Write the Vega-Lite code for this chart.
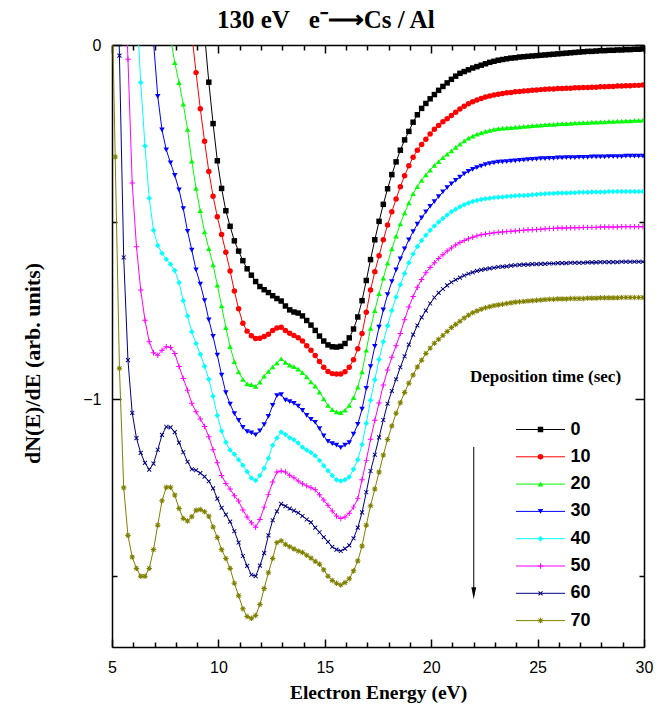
{
"$schema": "https://vega.github.io/schema/vega-lite/v6.json",
"width": 532, "height": 602,
"autosize": {"type": "none"},
"padding": {"left": 112, "top": 45, "right": 24, "bottom": 68},
"background": "white",
"config": {"view": {"stroke": null}},
"title": {"text": "130 eV\u00a0\u00a0\u00a0e\u207b\u27f6Cs / Al", "anchor": "start", "frame": "group", "dx": 105, "offset": 4, "font": "Liberation Serif", "fontSize": 25, "fontWeight": "bold", "color": "black"},
"datasets": {
"arrow": [{"E": 22.0, "v": -1.135, "v2": -1.535}],
"arrowhead": [{"E": 22.0, "v": -1.548}],
"curves": [
{"t":0,"E":9.15,"v":0.15},{"t":0,"E":9.35,"v":0.03},{"t":0,"E":9.55,"v":-0.105},{"t":0,"E":9.75,"v":-0.222},{"t":0,"E":9.95,"v":-0.327},{"t":0,"E":10.15,"v":-0.405},{"t":0,"E":10.35,"v":-0.468},{"t":0,"E":10.55,"v":-0.512},{"t":0,"E":10.75,"v":-0.553},{"t":0,"E":10.95,"v":-0.582},{"t":0,"E":11.15,"v":-0.609},{"t":0,"E":11.35,"v":-0.632},{"t":0,"E":11.55,"v":-0.65},{"t":0,"E":11.75,"v":-0.668},{"t":0,"E":11.95,"v":-0.682},{"t":0,"E":12.15,"v":-0.691},{"t":0,"E":12.35,"v":-0.699},{"t":0,"E":12.55,"v":-0.708},{"t":0,"E":12.75,"v":-0.716},{"t":0,"E":12.95,"v":-0.723},{"t":0,"E":13.15,"v":-0.737},{"t":0,"E":13.35,"v":-0.748},{"t":0,"E":13.55,"v":-0.754},{"t":0,"E":13.75,"v":-0.757},{"t":0,"E":13.95,"v":-0.765},{"t":0,"E":14.15,"v":-0.778},{"t":0,"E":14.35,"v":-0.791},{"t":0,"E":14.55,"v":-0.806},{"t":0,"E":14.75,"v":-0.822},{"t":0,"E":14.95,"v":-0.836},{"t":0,"E":15.15,"v":-0.847},{"t":0,"E":15.35,"v":-0.852},{"t":0,"E":15.55,"v":-0.853},{"t":0,"E":15.75,"v":-0.851},{"t":0,"E":15.95,"v":-0.843},{"t":0,"E":16.15,"v":-0.827},{"t":0,"E":16.35,"v":-0.802},{"t":0,"E":16.55,"v":-0.768},{"t":0,"E":16.75,"v":-0.722},{"t":0,"E":16.95,"v":-0.665},{"t":0,"E":17.15,"v":-0.606},{"t":0,"E":17.35,"v":-0.55},{"t":0,"E":17.55,"v":-0.498},{"t":0,"E":17.75,"v":-0.45},{"t":0,"E":17.95,"v":-0.406},{"t":0,"E":18.15,"v":-0.366},{"t":0,"E":18.35,"v":-0.33},{"t":0,"E":18.55,"v":-0.297},{"t":0,"E":18.75,"v":-0.268},{"t":0,"E":18.95,"v":-0.244},{"t":0,"E":19.15,"v":-0.218},{"t":0,"E":19.35,"v":-0.197},{"t":0,"E":19.55,"v":-0.179},{"t":0,"E":19.75,"v":-0.165},{"t":0,"E":19.95,"v":-0.152},{"t":0,"E":20.15,"v":-0.14},{"t":0,"E":20.35,"v":-0.128},{"t":0,"E":20.55,"v":-0.117},{"t":0,"E":20.75,"v":-0.107},{"t":0,"E":20.95,"v":-0.097},{"t":0,"E":21.15,"v":-0.088},{"t":0,"E":21.35,"v":-0.08},{"t":0,"E":21.55,"v":-0.075},{"t":0,"E":21.75,"v":-0.07},{"t":0,"E":21.95,"v":-0.065},{"t":0,"E":22.15,"v":-0.061},{"t":0,"E":22.35,"v":-0.057},{"t":0,"E":22.55,"v":-0.053},{"t":0,"E":22.75,"v":-0.049},{"t":0,"E":22.95,"v":-0.046},{"t":0,"E":23.15,"v":-0.043},{"t":0,"E":23.35,"v":-0.041},{"t":0,"E":23.55,"v":-0.039},{"t":0,"E":23.75,"v":-0.037},{"t":0,"E":23.95,"v":-0.036},{"t":0,"E":24.15,"v":-0.034},{"t":0,"E":24.35,"v":-0.033},{"t":0,"E":24.55,"v":-0.032},{"t":0,"E":24.75,"v":-0.031},{"t":0,"E":24.95,"v":-0.03},{"t":0,"E":25.15,"v":-0.029},{"t":0,"E":25.35,"v":-0.028},{"t":0,"E":25.55,"v":-0.027},{"t":0,"E":25.75,"v":-0.026},{"t":0,"E":25.95,"v":-0.025},{"t":0,"E":26.15,"v":-0.024},{"t":0,"E":26.35,"v":-0.023},{"t":0,"E":26.55,"v":-0.022},{"t":0,"E":26.75,"v":-0.021},{"t":0,"E":26.95,"v":-0.02},{"t":0,"E":27.15,"v":-0.019},{"t":0,"E":27.35,"v":-0.018},{"t":0,"E":27.55,"v":-0.018},{"t":0,"E":27.75,"v":-0.017},{"t":0,"E":27.95,"v":-0.016},{"t":0,"E":28.15,"v":-0.016},{"t":0,"E":28.35,"v":-0.015},{"t":0,"E":28.55,"v":-0.015},{"t":0,"E":28.75,"v":-0.014},{"t":0,"E":28.95,"v":-0.014},{"t":0,"E":29.15,"v":-0.013},{"t":0,"E":29.35,"v":-0.013},{"t":0,"E":29.55,"v":-0.012},{"t":0,"E":29.75,"v":-0.012},{"t":0,"E":29.95,"v":-0.011},
{"t":10,"E":8.55,"v":0.25},{"t":10,"E":8.75,"v":0.03},{"t":10,"E":8.95,"v":-0.078},{"t":10,"E":9.15,"v":-0.18},{"t":10,"E":9.35,"v":-0.272},{"t":10,"E":9.55,"v":-0.357},{"t":10,"E":9.75,"v":-0.427},{"t":10,"E":9.95,"v":-0.485},{"t":10,"E":10.15,"v":-0.535},{"t":10,"E":10.35,"v":-0.585},{"t":10,"E":10.55,"v":-0.638},{"t":10,"E":10.75,"v":-0.695},{"t":10,"E":10.95,"v":-0.745},{"t":10,"E":11.15,"v":-0.786},{"t":10,"E":11.35,"v":-0.808},{"t":10,"E":11.55,"v":-0.821},{"t":10,"E":11.75,"v":-0.829},{"t":10,"E":11.95,"v":-0.828},{"t":10,"E":12.15,"v":-0.823},{"t":10,"E":12.35,"v":-0.817},{"t":10,"E":12.55,"v":-0.806},{"t":10,"E":12.75,"v":-0.799},{"t":10,"E":12.95,"v":-0.797},{"t":10,"E":13.15,"v":-0.806},{"t":10,"E":13.35,"v":-0.814},{"t":10,"E":13.55,"v":-0.82},{"t":10,"E":13.75,"v":-0.827},{"t":10,"E":13.95,"v":-0.836},{"t":10,"E":14.15,"v":-0.849},{"t":10,"E":14.35,"v":-0.862},{"t":10,"E":14.55,"v":-0.877},{"t":10,"E":14.75,"v":-0.894},{"t":10,"E":14.95,"v":-0.91},{"t":10,"E":15.15,"v":-0.922},{"t":10,"E":15.35,"v":-0.928},{"t":10,"E":15.55,"v":-0.929},{"t":10,"E":15.75,"v":-0.929},{"t":10,"E":15.95,"v":-0.923},{"t":10,"E":16.15,"v":-0.91},{"t":10,"E":16.35,"v":-0.889},{"t":10,"E":16.55,"v":-0.858},{"t":10,"E":16.75,"v":-0.815},{"t":10,"E":16.95,"v":-0.755},{"t":10,"E":17.15,"v":-0.692},{"t":10,"E":17.35,"v":-0.64},{"t":10,"E":17.55,"v":-0.595},{"t":10,"E":17.75,"v":-0.55},{"t":10,"E":17.95,"v":-0.508},{"t":10,"E":18.15,"v":-0.471},{"t":10,"E":18.35,"v":-0.435},{"t":10,"E":18.55,"v":-0.4},{"t":10,"E":18.75,"v":-0.369},{"t":10,"E":18.95,"v":-0.341},{"t":10,"E":19.15,"v":-0.317},{"t":10,"E":19.35,"v":-0.297},{"t":10,"E":19.55,"v":-0.281},{"t":10,"E":19.75,"v":-0.266},{"t":10,"E":19.95,"v":-0.251},{"t":10,"E":20.15,"v":-0.238},{"t":10,"E":20.35,"v":-0.227},{"t":10,"E":20.55,"v":-0.217},{"t":10,"E":20.75,"v":-0.208},{"t":10,"E":20.95,"v":-0.199},{"t":10,"E":21.15,"v":-0.19},{"t":10,"E":21.35,"v":-0.181},{"t":10,"E":21.55,"v":-0.173},{"t":10,"E":21.75,"v":-0.166},{"t":10,"E":21.95,"v":-0.16},{"t":10,"E":22.15,"v":-0.155},{"t":10,"E":22.35,"v":-0.151},{"t":10,"E":22.55,"v":-0.147},{"t":10,"E":22.75,"v":-0.144},{"t":10,"E":22.95,"v":-0.141},{"t":10,"E":23.15,"v":-0.139},{"t":10,"E":23.35,"v":-0.137},{"t":10,"E":23.55,"v":-0.135},{"t":10,"E":23.75,"v":-0.134},{"t":10,"E":23.95,"v":-0.132},{"t":10,"E":24.15,"v":-0.131},{"t":10,"E":24.35,"v":-0.13},{"t":10,"E":24.55,"v":-0.129},{"t":10,"E":24.75,"v":-0.128},{"t":10,"E":24.95,"v":-0.127},{"t":10,"E":25.15,"v":-0.126},{"t":10,"E":25.35,"v":-0.125},{"t":10,"E":25.55,"v":-0.124},{"t":10,"E":25.75,"v":-0.124},{"t":10,"E":25.95,"v":-0.123},{"t":10,"E":26.15,"v":-0.123},{"t":10,"E":26.35,"v":-0.122},{"t":10,"E":26.55,"v":-0.122},{"t":10,"E":26.75,"v":-0.121},{"t":10,"E":26.95,"v":-0.121},{"t":10,"E":27.15,"v":-0.12},{"t":10,"E":27.35,"v":-0.12},{"t":10,"E":27.55,"v":-0.119},{"t":10,"E":27.75,"v":-0.119},{"t":10,"E":27.95,"v":-0.118},{"t":10,"E":28.15,"v":-0.118},{"t":10,"E":28.35,"v":-0.117},{"t":10,"E":28.55,"v":-0.117},{"t":10,"E":28.75,"v":-0.116},{"t":10,"E":28.95,"v":-0.116},{"t":10,"E":29.15,"v":-0.115},{"t":10,"E":29.35,"v":-0.115},{"t":10,"E":29.55,"v":-0.114},{"t":10,"E":29.75,"v":-0.114},{"t":10,"E":29.95,"v":-0.113},
{"t":20,"E":7.55,"v":0.2},{"t":20,"E":7.75,"v":0.02},{"t":20,"E":7.95,"v":-0.05},{"t":20,"E":8.15,"v":-0.106},{"t":20,"E":8.35,"v":-0.167},{"t":20,"E":8.55,"v":-0.238},{"t":20,"E":8.75,"v":-0.328},{"t":20,"E":8.95,"v":-0.405},{"t":20,"E":9.15,"v":-0.468},{"t":20,"E":9.35,"v":-0.528},{"t":20,"E":9.55,"v":-0.575},{"t":20,"E":9.75,"v":-0.621},{"t":20,"E":9.95,"v":-0.678},{"t":20,"E":10.15,"v":-0.737},{"t":20,"E":10.35,"v":-0.798},{"t":20,"E":10.55,"v":-0.852},{"t":20,"E":10.75,"v":-0.894},{"t":20,"E":10.95,"v":-0.923},{"t":20,"E":11.15,"v":-0.944},{"t":20,"E":11.35,"v":-0.957},{"t":20,"E":11.55,"v":-0.959},{"t":20,"E":11.75,"v":-0.964},{"t":20,"E":11.95,"v":-0.952},{"t":20,"E":12.15,"v":-0.935},{"t":20,"E":12.35,"v":-0.922},{"t":20,"E":12.55,"v":-0.909},{"t":20,"E":12.75,"v":-0.898},{"t":20,"E":12.95,"v":-0.886},{"t":20,"E":13.15,"v":-0.896},{"t":20,"E":13.35,"v":-0.904},{"t":20,"E":13.55,"v":-0.908},{"t":20,"E":13.75,"v":-0.915},{"t":20,"E":13.95,"v":-0.925},{"t":20,"E":14.15,"v":-0.937},{"t":20,"E":14.35,"v":-0.951},{"t":20,"E":14.55,"v":-0.963},{"t":20,"E":14.75,"v":-0.98},{"t":20,"E":14.95,"v":-0.999},{"t":20,"E":15.15,"v":-1.018},{"t":20,"E":15.35,"v":-1.03},{"t":20,"E":15.55,"v":-1.036},{"t":20,"E":15.75,"v":-1.038},{"t":20,"E":15.95,"v":-1.031},{"t":20,"E":16.15,"v":-1.018},{"t":20,"E":16.35,"v":-0.996},{"t":20,"E":16.55,"v":-0.966},{"t":20,"E":16.75,"v":-0.923},{"t":20,"E":16.95,"v":-0.862},{"t":20,"E":17.15,"v":-0.8},{"t":20,"E":17.35,"v":-0.75},{"t":20,"E":17.55,"v":-0.702},{"t":20,"E":17.75,"v":-0.658},{"t":20,"E":17.95,"v":-0.616},{"t":20,"E":18.15,"v":-0.576},{"t":20,"E":18.35,"v":-0.54},{"t":20,"E":18.55,"v":-0.505},{"t":20,"E":18.75,"v":-0.474},{"t":20,"E":18.95,"v":-0.446},{"t":20,"E":19.15,"v":-0.42},{"t":20,"E":19.35,"v":-0.4},{"t":20,"E":19.55,"v":-0.382},{"t":20,"E":19.75,"v":-0.367},{"t":20,"E":19.95,"v":-0.353},{"t":20,"E":20.15,"v":-0.34},{"t":20,"E":20.35,"v":-0.329},{"t":20,"E":20.55,"v":-0.318},{"t":20,"E":20.75,"v":-0.308},{"t":20,"E":20.95,"v":-0.299},{"t":20,"E":21.15,"v":-0.289},{"t":20,"E":21.35,"v":-0.28},{"t":20,"E":21.55,"v":-0.271},{"t":20,"E":21.75,"v":-0.263},{"t":20,"E":21.95,"v":-0.257},{"t":20,"E":22.15,"v":-0.252},{"t":20,"E":22.35,"v":-0.248},{"t":20,"E":22.55,"v":-0.244},{"t":20,"E":22.75,"v":-0.241},{"t":20,"E":22.95,"v":-0.238},{"t":20,"E":23.15,"v":-0.236},{"t":20,"E":23.35,"v":-0.235},{"t":20,"E":23.55,"v":-0.234},{"t":20,"E":23.75,"v":-0.233},{"t":20,"E":23.95,"v":-0.232},{"t":20,"E":24.15,"v":-0.231},{"t":20,"E":24.35,"v":-0.23},{"t":20,"E":24.55,"v":-0.229},{"t":20,"E":24.75,"v":-0.228},{"t":20,"E":24.95,"v":-0.227},{"t":20,"E":25.15,"v":-0.226},{"t":20,"E":25.35,"v":-0.225},{"t":20,"E":25.55,"v":-0.224},{"t":20,"E":25.75,"v":-0.224},{"t":20,"E":25.95,"v":-0.223},{"t":20,"E":26.15,"v":-0.222},{"t":20,"E":26.35,"v":-0.222},{"t":20,"E":26.55,"v":-0.221},{"t":20,"E":26.75,"v":-0.22},{"t":20,"E":26.95,"v":-0.22},{"t":20,"E":27.15,"v":-0.219},{"t":20,"E":27.35,"v":-0.219},{"t":20,"E":27.55,"v":-0.218},{"t":20,"E":27.75,"v":-0.218},{"t":20,"E":27.95,"v":-0.217},{"t":20,"E":28.15,"v":-0.217},{"t":20,"E":28.35,"v":-0.216},{"t":20,"E":28.55,"v":-0.216},{"t":20,"E":28.75,"v":-0.215},{"t":20,"E":28.95,"v":-0.215},{"t":20,"E":29.15,"v":-0.214},{"t":20,"E":29.35,"v":-0.214},{"t":20,"E":29.55,"v":-0.213},{"t":20,"E":29.75,"v":-0.213},{"t":20,"E":29.95,"v":-0.212},
{"t":30,"E":6.75,"v":0.3},{"t":30,"E":6.95,"v":0.01},{"t":30,"E":7.15,"v":-0.145},{"t":30,"E":7.35,"v":-0.24},{"t":30,"E":7.55,"v":-0.296},{"t":30,"E":7.75,"v":-0.333},{"t":30,"E":7.95,"v":-0.368},{"t":30,"E":8.15,"v":-0.409},{"t":30,"E":8.35,"v":-0.462},{"t":30,"E":8.55,"v":-0.526},{"t":30,"E":8.75,"v":-0.579},{"t":30,"E":8.95,"v":-0.635},{"t":30,"E":9.15,"v":-0.675},{"t":30,"E":9.35,"v":-0.722},{"t":30,"E":9.55,"v":-0.776},{"t":30,"E":9.75,"v":-0.823},{"t":30,"E":9.95,"v":-0.876},{"t":30,"E":10.15,"v":-0.932},{"t":30,"E":10.35,"v":-0.982},{"t":30,"E":10.55,"v":-1.014},{"t":30,"E":10.75,"v":-1.041},{"t":30,"E":10.95,"v":-1.06},{"t":30,"E":11.15,"v":-1.08},{"t":30,"E":11.35,"v":-1.092},{"t":30,"E":11.55,"v":-1.095},{"t":30,"E":11.75,"v":-1.101},{"t":30,"E":11.95,"v":-1.09},{"t":30,"E":12.15,"v":-1.072},{"t":30,"E":12.35,"v":-1.049},{"t":30,"E":12.55,"v":-1.018},{"t":30,"E":12.75,"v":-0.99},{"t":30,"E":12.95,"v":-0.987},{"t":30,"E":13.15,"v":-1.003},{"t":30,"E":13.35,"v":-1.007},{"t":30,"E":13.55,"v":-1.012},{"t":30,"E":13.75,"v":-1.02},{"t":30,"E":13.95,"v":-1.032},{"t":30,"E":14.15,"v":-1.046},{"t":30,"E":14.35,"v":-1.057},{"t":30,"E":14.55,"v":-1.066},{"t":30,"E":14.75,"v":-1.083},{"t":30,"E":14.95,"v":-1.104},{"t":30,"E":15.15,"v":-1.119},{"t":30,"E":15.35,"v":-1.126},{"t":30,"E":15.55,"v":-1.13},{"t":30,"E":15.75,"v":-1.137},{"t":30,"E":15.95,"v":-1.13},{"t":30,"E":16.15,"v":-1.123},{"t":30,"E":16.35,"v":-1.099},{"t":30,"E":16.55,"v":-1.071},{"t":30,"E":16.75,"v":-1.028},{"t":30,"E":16.95,"v":-0.97},{"t":30,"E":17.15,"v":-0.908},{"t":30,"E":17.35,"v":-0.851},{"t":30,"E":17.55,"v":-0.797},{"t":30,"E":17.75,"v":-0.748},{"t":30,"E":17.95,"v":-0.705},{"t":30,"E":18.15,"v":-0.668},{"t":30,"E":18.35,"v":-0.635},{"t":30,"E":18.55,"v":-0.604},{"t":30,"E":18.75,"v":-0.576},{"t":30,"E":18.95,"v":-0.55},{"t":30,"E":19.15,"v":-0.527},{"t":30,"E":19.35,"v":-0.506},{"t":30,"E":19.55,"v":-0.488},{"t":30,"E":19.75,"v":-0.471},{"t":30,"E":19.95,"v":-0.456},{"t":30,"E":20.15,"v":-0.442},{"t":30,"E":20.35,"v":-0.428},{"t":30,"E":20.55,"v":-0.415},{"t":30,"E":20.75,"v":-0.403},{"t":30,"E":20.95,"v":-0.392},{"t":30,"E":21.15,"v":-0.382},{"t":30,"E":21.35,"v":-0.373},{"t":30,"E":21.55,"v":-0.364},{"t":30,"E":21.75,"v":-0.357},{"t":30,"E":21.95,"v":-0.351},{"t":30,"E":22.15,"v":-0.346},{"t":30,"E":22.35,"v":-0.342},{"t":30,"E":22.55,"v":-0.338},{"t":30,"E":22.75,"v":-0.335},{"t":30,"E":22.95,"v":-0.333},{"t":30,"E":23.15,"v":-0.331},{"t":30,"E":23.35,"v":-0.33},{"t":30,"E":23.55,"v":-0.329},{"t":30,"E":23.75,"v":-0.328},{"t":30,"E":23.95,"v":-0.327},{"t":30,"E":24.15,"v":-0.326},{"t":30,"E":24.35,"v":-0.325},{"t":30,"E":24.55,"v":-0.324},{"t":30,"E":24.75,"v":-0.323},{"t":30,"E":24.95,"v":-0.322},{"t":30,"E":25.15,"v":-0.321},{"t":30,"E":25.35,"v":-0.321},{"t":30,"E":25.55,"v":-0.32},{"t":30,"E":25.75,"v":-0.32},{"t":30,"E":25.95,"v":-0.319},{"t":30,"E":26.15,"v":-0.319},{"t":30,"E":26.35,"v":-0.318},{"t":30,"E":26.55,"v":-0.318},{"t":30,"E":26.75,"v":-0.318},{"t":30,"E":26.95,"v":-0.317},{"t":30,"E":27.15,"v":-0.317},{"t":30,"E":27.35,"v":-0.317},{"t":30,"E":27.55,"v":-0.316},{"t":30,"E":27.75,"v":-0.316},{"t":30,"E":27.95,"v":-0.316},{"t":30,"E":28.15,"v":-0.316},{"t":30,"E":28.35,"v":-0.315},{"t":30,"E":28.55,"v":-0.315},{"t":30,"E":28.75,"v":-0.315},{"t":30,"E":28.95,"v":-0.315},{"t":30,"E":29.15,"v":-0.314},{"t":30,"E":29.35,"v":-0.314},{"t":30,"E":29.55,"v":-0.314},{"t":30,"E":29.75,"v":-0.314},{"t":30,"E":29.95,"v":-0.314},
{"t":40,"E":6.15,"v":0.12},{"t":40,"E":6.35,"v":-0.106},{"t":40,"E":6.55,"v":-0.285},{"t":40,"E":6.75,"v":-0.433},{"t":40,"E":6.95,"v":-0.523},{"t":40,"E":7.15,"v":-0.566},{"t":40,"E":7.35,"v":-0.588},{"t":40,"E":7.55,"v":-0.605},{"t":40,"E":7.75,"v":-0.619},{"t":40,"E":7.95,"v":-0.637},{"t":40,"E":8.15,"v":-0.671},{"t":40,"E":8.35,"v":-0.722},{"t":40,"E":8.55,"v":-0.765},{"t":40,"E":8.75,"v":-0.81},{"t":40,"E":8.95,"v":-0.843},{"t":40,"E":9.15,"v":-0.873},{"t":40,"E":9.35,"v":-0.907},{"t":40,"E":9.55,"v":-0.944},{"t":40,"E":9.75,"v":-0.992},{"t":40,"E":9.95,"v":-1.046},{"t":40,"E":10.15,"v":-1.09},{"t":40,"E":10.35,"v":-1.122},{"t":40,"E":10.55,"v":-1.144},{"t":40,"E":10.75,"v":-1.156},{"t":40,"E":10.95,"v":-1.171},{"t":40,"E":11.15,"v":-1.187},{"t":40,"E":11.35,"v":-1.205},{"t":40,"E":11.55,"v":-1.223},{"t":40,"E":11.75,"v":-1.23},{"t":40,"E":11.95,"v":-1.216},{"t":40,"E":12.15,"v":-1.195},{"t":40,"E":12.35,"v":-1.167},{"t":40,"E":12.55,"v":-1.13},{"t":40,"E":12.75,"v":-1.11},{"t":40,"E":12.95,"v":-1.093},{"t":40,"E":13.15,"v":-1.1},{"t":40,"E":13.35,"v":-1.109},{"t":40,"E":13.55,"v":-1.115},{"t":40,"E":13.75,"v":-1.124},{"t":40,"E":13.95,"v":-1.136},{"t":40,"E":14.15,"v":-1.144},{"t":40,"E":14.35,"v":-1.151},{"t":40,"E":14.55,"v":-1.16},{"t":40,"E":14.75,"v":-1.173},{"t":40,"E":14.95,"v":-1.188},{"t":40,"E":15.15,"v":-1.202},{"t":40,"E":15.35,"v":-1.216},{"t":40,"E":15.55,"v":-1.228},{"t":40,"E":15.75,"v":-1.231},{"t":40,"E":15.95,"v":-1.228},{"t":40,"E":16.15,"v":-1.22},{"t":40,"E":16.35,"v":-1.198},{"t":40,"E":16.55,"v":-1.171},{"t":40,"E":16.75,"v":-1.128},{"t":40,"E":16.95,"v":-1.068},{"t":40,"E":17.15,"v":-1.003},{"t":40,"E":17.35,"v":-0.945},{"t":40,"E":17.55,"v":-0.888},{"t":40,"E":17.75,"v":-0.838},{"t":40,"E":17.95,"v":-0.793},{"t":40,"E":18.15,"v":-0.75},{"t":40,"E":18.35,"v":-0.712},{"t":40,"E":18.55,"v":-0.677},{"t":40,"E":18.75,"v":-0.645},{"t":40,"E":18.95,"v":-0.615},{"t":40,"E":19.15,"v":-0.59},{"t":40,"E":19.35,"v":-0.569},{"t":40,"E":19.55,"v":-0.552},{"t":40,"E":19.75,"v":-0.537},{"t":40,"E":19.95,"v":-0.523},{"t":40,"E":20.15,"v":-0.511},{"t":40,"E":20.35,"v":-0.5},{"t":40,"E":20.55,"v":-0.49},{"t":40,"E":20.75,"v":-0.48},{"t":40,"E":20.95,"v":-0.471},{"t":40,"E":21.15,"v":-0.464},{"t":40,"E":21.35,"v":-0.457},{"t":40,"E":21.55,"v":-0.451},{"t":40,"E":21.75,"v":-0.446},{"t":40,"E":21.95,"v":-0.442},{"t":40,"E":22.15,"v":-0.439},{"t":40,"E":22.35,"v":-0.436},{"t":40,"E":22.55,"v":-0.434},{"t":40,"E":22.75,"v":-0.433},{"t":40,"E":22.95,"v":-0.431},{"t":40,"E":23.15,"v":-0.43},{"t":40,"E":23.35,"v":-0.429},{"t":40,"E":23.55,"v":-0.428},{"t":40,"E":23.75,"v":-0.427},{"t":40,"E":23.95,"v":-0.426},{"t":40,"E":24.15,"v":-0.425},{"t":40,"E":24.35,"v":-0.425},{"t":40,"E":24.55,"v":-0.424},{"t":40,"E":24.75,"v":-0.423},{"t":40,"E":24.95,"v":-0.422},{"t":40,"E":25.15,"v":-0.421},{"t":40,"E":25.35,"v":-0.42},{"t":40,"E":25.55,"v":-0.419},{"t":40,"E":25.75,"v":-0.419},{"t":40,"E":25.95,"v":-0.418},{"t":40,"E":26.15,"v":-0.418},{"t":40,"E":26.35,"v":-0.418},{"t":40,"E":26.55,"v":-0.417},{"t":40,"E":26.75,"v":-0.417},{"t":40,"E":26.95,"v":-0.416},{"t":40,"E":27.15,"v":-0.416},{"t":40,"E":27.35,"v":-0.416},{"t":40,"E":27.55,"v":-0.415},{"t":40,"E":27.75,"v":-0.415},{"t":40,"E":27.95,"v":-0.415},{"t":40,"E":28.15,"v":-0.415},{"t":40,"E":28.35,"v":-0.414},{"t":40,"E":28.55,"v":-0.414},{"t":40,"E":28.75,"v":-0.414},{"t":40,"E":28.95,"v":-0.414},{"t":40,"E":29.15,"v":-0.414},{"t":40,"E":29.35,"v":-0.414},{"t":40,"E":29.55,"v":-0.414},{"t":40,"E":29.75,"v":-0.414},{"t":40,"E":29.95,"v":-0.414},
{"t":50,"E":5.55,"v":0.3},{"t":50,"E":5.75,"v":-0.04},{"t":50,"E":5.95,"v":-0.39},{"t":50,"E":6.15,"v":-0.57},{"t":50,"E":6.35,"v":-0.692},{"t":50,"E":6.55,"v":-0.777},{"t":50,"E":6.75,"v":-0.838},{"t":50,"E":6.95,"v":-0.869},{"t":50,"E":7.15,"v":-0.876},{"t":50,"E":7.35,"v":-0.862},{"t":50,"E":7.55,"v":-0.852},{"t":50,"E":7.75,"v":-0.854},{"t":50,"E":7.95,"v":-0.871},{"t":50,"E":8.15,"v":-0.908},{"t":50,"E":8.35,"v":-0.942},{"t":50,"E":8.55,"v":-0.975},{"t":50,"E":8.75,"v":-1.012},{"t":50,"E":8.95,"v":-1.036},{"t":50,"E":9.15,"v":-1.056},{"t":50,"E":9.35,"v":-1.077},{"t":50,"E":9.55,"v":-1.106},{"t":50,"E":9.75,"v":-1.143},{"t":50,"E":9.95,"v":-1.18},{"t":50,"E":10.15,"v":-1.216},{"t":50,"E":10.35,"v":-1.238},{"t":50,"E":10.55,"v":-1.254},{"t":50,"E":10.75,"v":-1.273},{"t":50,"E":10.95,"v":-1.288},{"t":50,"E":11.15,"v":-1.313},{"t":50,"E":11.35,"v":-1.333},{"t":50,"E":11.55,"v":-1.349},{"t":50,"E":11.75,"v":-1.362},{"t":50,"E":11.95,"v":-1.34},{"t":50,"E":12.15,"v":-1.305},{"t":50,"E":12.35,"v":-1.269},{"t":50,"E":12.55,"v":-1.234},{"t":50,"E":12.75,"v":-1.206},{"t":50,"E":12.95,"v":-1.203},{"t":50,"E":13.15,"v":-1.206},{"t":50,"E":13.35,"v":-1.215},{"t":50,"E":13.55,"v":-1.222},{"t":50,"E":13.75,"v":-1.231},{"t":50,"E":13.95,"v":-1.239},{"t":50,"E":14.15,"v":-1.245},{"t":50,"E":14.35,"v":-1.25},{"t":50,"E":14.55,"v":-1.256},{"t":50,"E":14.75,"v":-1.27},{"t":50,"E":14.95,"v":-1.285},{"t":50,"E":15.15,"v":-1.3},{"t":50,"E":15.35,"v":-1.316},{"t":50,"E":15.55,"v":-1.33},{"t":50,"E":15.75,"v":-1.337},{"t":50,"E":15.95,"v":-1.333},{"t":50,"E":16.15,"v":-1.322},{"t":50,"E":16.35,"v":-1.305},{"t":50,"E":16.55,"v":-1.281},{"t":50,"E":16.75,"v":-1.228},{"t":50,"E":16.95,"v":-1.173},{"t":50,"E":17.15,"v":-1.113},{"t":50,"E":17.35,"v":-1.06},{"t":50,"E":17.55,"v":-1.011},{"t":50,"E":17.75,"v":-0.96},{"t":50,"E":17.95,"v":-0.918},{"t":50,"E":18.15,"v":-0.882},{"t":50,"E":18.35,"v":-0.849},{"t":50,"E":18.55,"v":-0.815},{"t":50,"E":18.75,"v":-0.776},{"t":50,"E":18.95,"v":-0.74},{"t":50,"E":19.15,"v":-0.71},{"t":50,"E":19.35,"v":-0.684},{"t":50,"E":19.55,"v":-0.662},{"t":50,"E":19.75,"v":-0.643},{"t":50,"E":19.95,"v":-0.628},{"t":50,"E":20.15,"v":-0.615},{"t":50,"E":20.35,"v":-0.603},{"t":50,"E":20.55,"v":-0.592},{"t":50,"E":20.75,"v":-0.582},{"t":50,"E":20.95,"v":-0.573},{"t":50,"E":21.15,"v":-0.565},{"t":50,"E":21.35,"v":-0.558},{"t":50,"E":21.55,"v":-0.552},{"t":50,"E":21.75,"v":-0.547},{"t":50,"E":21.95,"v":-0.543},{"t":50,"E":22.15,"v":-0.539},{"t":50,"E":22.35,"v":-0.536},{"t":50,"E":22.55,"v":-0.534},{"t":50,"E":22.75,"v":-0.532},{"t":50,"E":22.95,"v":-0.53},{"t":50,"E":23.15,"v":-0.529},{"t":50,"E":23.35,"v":-0.528},{"t":50,"E":23.55,"v":-0.527},{"t":50,"E":23.75,"v":-0.526},{"t":50,"E":23.95,"v":-0.525},{"t":50,"E":24.15,"v":-0.524},{"t":50,"E":24.35,"v":-0.523},{"t":50,"E":24.55,"v":-0.522},{"t":50,"E":24.75,"v":-0.522},{"t":50,"E":24.95,"v":-0.521},{"t":50,"E":25.15,"v":-0.52},{"t":50,"E":25.35,"v":-0.519},{"t":50,"E":25.55,"v":-0.518},{"t":50,"E":25.75,"v":-0.518},{"t":50,"E":25.95,"v":-0.517},{"t":50,"E":26.15,"v":-0.517},{"t":50,"E":26.35,"v":-0.517},{"t":50,"E":26.55,"v":-0.516},{"t":50,"E":26.75,"v":-0.516},{"t":50,"E":26.95,"v":-0.516},{"t":50,"E":27.15,"v":-0.515},{"t":50,"E":27.35,"v":-0.515},{"t":50,"E":27.55,"v":-0.515},{"t":50,"E":27.75,"v":-0.515},{"t":50,"E":27.95,"v":-0.514},{"t":50,"E":28.15,"v":-0.514},{"t":50,"E":28.35,"v":-0.514},{"t":50,"E":28.55,"v":-0.514},{"t":50,"E":28.75,"v":-0.514},{"t":50,"E":28.95,"v":-0.513},{"t":50,"E":29.15,"v":-0.513},{"t":50,"E":29.35,"v":-0.513},{"t":50,"E":29.55,"v":-0.513},{"t":50,"E":29.75,"v":-0.513},{"t":50,"E":29.95,"v":-0.513},
{"t":60,"E":5.15,"v":0.5},{"t":60,"E":5.35,"v":-0.03},{"t":60,"E":5.55,"v":-0.6},{"t":60,"E":5.75,"v":-0.89},{"t":60,"E":5.95,"v":-1.039},{"t":60,"E":6.15,"v":-1.11},{"t":60,"E":6.35,"v":-1.152},{"t":60,"E":6.55,"v":-1.18},{"t":60,"E":6.75,"v":-1.199},{"t":60,"E":6.95,"v":-1.182},{"t":60,"E":7.15,"v":-1.143},{"t":60,"E":7.35,"v":-1.101},{"t":60,"E":7.55,"v":-1.078},{"t":60,"E":7.75,"v":-1.08},{"t":60,"E":7.95,"v":-1.093},{"t":60,"E":8.15,"v":-1.123},{"t":60,"E":8.35,"v":-1.15},{"t":60,"E":8.55,"v":-1.177},{"t":60,"E":8.75,"v":-1.198},{"t":60,"E":8.95,"v":-1.201},{"t":60,"E":9.15,"v":-1.209},{"t":60,"E":9.35,"v":-1.219},{"t":60,"E":9.55,"v":-1.232},{"t":60,"E":9.75,"v":-1.252},{"t":60,"E":9.95,"v":-1.281},{"t":60,"E":10.15,"v":-1.307},{"t":60,"E":10.35,"v":-1.326},{"t":60,"E":10.55,"v":-1.346},{"t":60,"E":10.75,"v":-1.373},{"t":60,"E":10.95,"v":-1.405},{"t":60,"E":11.15,"v":-1.443},{"t":60,"E":11.35,"v":-1.471},{"t":60,"E":11.55,"v":-1.496},{"t":60,"E":11.75,"v":-1.5},{"t":60,"E":11.95,"v":-1.47},{"t":60,"E":12.15,"v":-1.435},{"t":60,"E":12.35,"v":-1.385},{"t":60,"E":12.55,"v":-1.342},{"t":60,"E":12.75,"v":-1.317},{"t":60,"E":12.95,"v":-1.296},{"t":60,"E":13.15,"v":-1.302},{"t":60,"E":13.35,"v":-1.309},{"t":60,"E":13.55,"v":-1.315},{"t":60,"E":13.75,"v":-1.321},{"t":60,"E":13.95,"v":-1.33},{"t":60,"E":14.15,"v":-1.34},{"t":60,"E":14.35,"v":-1.348},{"t":60,"E":14.55,"v":-1.363},{"t":60,"E":14.75,"v":-1.376},{"t":60,"E":14.95,"v":-1.39},{"t":60,"E":15.15,"v":-1.403},{"t":60,"E":15.35,"v":-1.417},{"t":60,"E":15.55,"v":-1.425},{"t":60,"E":15.75,"v":-1.429},{"t":60,"E":15.95,"v":-1.422},{"t":60,"E":16.15,"v":-1.413},{"t":60,"E":16.35,"v":-1.393},{"t":60,"E":16.55,"v":-1.363},{"t":60,"E":16.75,"v":-1.32},{"t":60,"E":16.95,"v":-1.263},{"t":60,"E":17.15,"v":-1.203},{"t":60,"E":17.35,"v":-1.157},{"t":60,"E":17.55,"v":-1.108},{"t":60,"E":17.75,"v":-1.059},{"t":60,"E":17.95,"v":-1.013},{"t":60,"E":18.15,"v":-0.977},{"t":60,"E":18.35,"v":-0.944},{"t":60,"E":18.55,"v":-0.91},{"t":60,"E":18.75,"v":-0.879},{"t":60,"E":18.95,"v":-0.846},{"t":60,"E":19.15,"v":-0.818},{"t":60,"E":19.35,"v":-0.792},{"t":60,"E":19.55,"v":-0.769},{"t":60,"E":19.75,"v":-0.75},{"t":60,"E":19.95,"v":-0.73},{"t":60,"E":20.15,"v":-0.713},{"t":60,"E":20.35,"v":-0.7},{"t":60,"E":20.55,"v":-0.689},{"t":60,"E":20.75,"v":-0.679},{"t":60,"E":20.95,"v":-0.67},{"t":60,"E":21.15,"v":-0.663},{"t":60,"E":21.35,"v":-0.657},{"t":60,"E":21.55,"v":-0.651},{"t":60,"E":21.75,"v":-0.646},{"t":60,"E":21.95,"v":-0.642},{"t":60,"E":22.15,"v":-0.638},{"t":60,"E":22.35,"v":-0.635},{"t":60,"E":22.55,"v":-0.633},{"t":60,"E":22.75,"v":-0.631},{"t":60,"E":22.95,"v":-0.629},{"t":60,"E":23.15,"v":-0.627},{"t":60,"E":23.35,"v":-0.626},{"t":60,"E":23.55,"v":-0.625},{"t":60,"E":23.75,"v":-0.623},{"t":60,"E":23.95,"v":-0.622},{"t":60,"E":24.15,"v":-0.621},{"t":60,"E":24.35,"v":-0.62},{"t":60,"E":24.55,"v":-0.62},{"t":60,"E":24.75,"v":-0.619},{"t":60,"E":24.95,"v":-0.619},{"t":60,"E":25.15,"v":-0.618},{"t":60,"E":25.35,"v":-0.618},{"t":60,"E":25.55,"v":-0.617},{"t":60,"E":25.75,"v":-0.617},{"t":60,"E":25.95,"v":-0.616},{"t":60,"E":26.15,"v":-0.616},{"t":60,"E":26.35,"v":-0.616},{"t":60,"E":26.55,"v":-0.615},{"t":60,"E":26.75,"v":-0.615},{"t":60,"E":26.95,"v":-0.615},{"t":60,"E":27.15,"v":-0.615},{"t":60,"E":27.35,"v":-0.614},{"t":60,"E":27.55,"v":-0.614},{"t":60,"E":27.75,"v":-0.614},{"t":60,"E":27.95,"v":-0.613},{"t":60,"E":28.15,"v":-0.613},{"t":60,"E":28.35,"v":-0.613},{"t":60,"E":28.55,"v":-0.613},{"t":60,"E":28.75,"v":-0.613},{"t":60,"E":28.95,"v":-0.612},{"t":60,"E":29.15,"v":-0.612},{"t":60,"E":29.35,"v":-0.612},{"t":60,"E":29.55,"v":-0.612},{"t":60,"E":29.75,"v":-0.612},{"t":60,"E":29.95,"v":-0.612},
{"t":70,"E":4.95,"v":0.3},{"t":70,"E":5.15,"v":-0.316},{"t":70,"E":5.35,"v":-0.913},{"t":70,"E":5.55,"v":-1.25},{"t":70,"E":5.75,"v":-1.385},{"t":70,"E":5.95,"v":-1.446},{"t":70,"E":6.15,"v":-1.478},{"t":70,"E":6.35,"v":-1.5},{"t":70,"E":6.55,"v":-1.5},{"t":70,"E":6.75,"v":-1.478},{"t":70,"E":6.95,"v":-1.425},{"t":70,"E":7.15,"v":-1.356},{"t":70,"E":7.35,"v":-1.287},{"t":70,"E":7.55,"v":-1.249},{"t":70,"E":7.75,"v":-1.249},{"t":70,"E":7.95,"v":-1.271},{"t":70,"E":8.15,"v":-1.309},{"t":70,"E":8.35,"v":-1.337},{"t":70,"E":8.55,"v":-1.344},{"t":70,"E":8.75,"v":-1.332},{"t":70,"E":8.95,"v":-1.314},{"t":70,"E":9.15,"v":-1.312},{"t":70,"E":9.35,"v":-1.318},{"t":70,"E":9.55,"v":-1.331},{"t":70,"E":9.75,"v":-1.361},{"t":70,"E":9.95,"v":-1.391},{"t":70,"E":10.15,"v":-1.425},{"t":70,"E":10.35,"v":-1.45},{"t":70,"E":10.55,"v":-1.478},{"t":70,"E":10.75,"v":-1.52},{"t":70,"E":10.95,"v":-1.555},{"t":70,"E":11.15,"v":-1.592},{"t":70,"E":11.35,"v":-1.614},{"t":70,"E":11.55,"v":-1.619},{"t":70,"E":11.75,"v":-1.611},{"t":70,"E":11.95,"v":-1.58},{"t":70,"E":12.15,"v":-1.535},{"t":70,"E":12.35,"v":-1.49},{"t":70,"E":12.55,"v":-1.45},{"t":70,"E":12.75,"v":-1.405},{"t":70,"E":12.95,"v":-1.4},{"t":70,"E":13.15,"v":-1.41},{"t":70,"E":13.35,"v":-1.417},{"t":70,"E":13.55,"v":-1.423},{"t":70,"E":13.75,"v":-1.429},{"t":70,"E":13.95,"v":-1.433},{"t":70,"E":14.15,"v":-1.441},{"t":70,"E":14.35,"v":-1.449},{"t":70,"E":14.55,"v":-1.458},{"t":70,"E":14.75,"v":-1.466},{"t":70,"E":14.95,"v":-1.482},{"t":70,"E":15.15,"v":-1.5},{"t":70,"E":15.35,"v":-1.512},{"t":70,"E":15.55,"v":-1.52},{"t":70,"E":15.75,"v":-1.525},{"t":70,"E":15.95,"v":-1.518},{"t":70,"E":16.15,"v":-1.507},{"t":70,"E":16.35,"v":-1.485},{"t":70,"E":16.55,"v":-1.457},{"t":70,"E":16.75,"v":-1.415},{"t":70,"E":16.95,"v":-1.356},{"t":70,"E":17.15,"v":-1.301},{"t":70,"E":17.35,"v":-1.254},{"t":70,"E":17.55,"v":-1.206},{"t":70,"E":17.75,"v":-1.158},{"t":70,"E":17.95,"v":-1.114},{"t":70,"E":18.15,"v":-1.076},{"t":70,"E":18.35,"v":-1.04},{"t":70,"E":18.55,"v":-1.01},{"t":70,"E":18.75,"v":-0.981},{"t":70,"E":18.95,"v":-0.955},{"t":70,"E":19.15,"v":-0.932},{"t":70,"E":19.35,"v":-0.909},{"t":70,"E":19.55,"v":-0.89},{"t":70,"E":19.75,"v":-0.871},{"t":70,"E":19.95,"v":-0.856},{"t":70,"E":20.15,"v":-0.842},{"t":70,"E":20.35,"v":-0.831},{"t":70,"E":20.55,"v":-0.82},{"t":70,"E":20.75,"v":-0.809},{"t":70,"E":20.95,"v":-0.798},{"t":70,"E":21.15,"v":-0.789},{"t":70,"E":21.35,"v":-0.78},{"t":70,"E":21.55,"v":-0.771},{"t":70,"E":21.75,"v":-0.763},{"t":70,"E":21.95,"v":-0.756},{"t":70,"E":22.15,"v":-0.751},{"t":70,"E":22.35,"v":-0.746},{"t":70,"E":22.55,"v":-0.742},{"t":70,"E":22.75,"v":-0.739},{"t":70,"E":22.95,"v":-0.736},{"t":70,"E":23.15,"v":-0.734},{"t":70,"E":23.35,"v":-0.732},{"t":70,"E":23.55,"v":-0.73},{"t":70,"E":23.75,"v":-0.728},{"t":70,"E":23.95,"v":-0.726},{"t":70,"E":24.15,"v":-0.725},{"t":70,"E":24.35,"v":-0.724},{"t":70,"E":24.55,"v":-0.723},{"t":70,"E":24.75,"v":-0.722},{"t":70,"E":24.95,"v":-0.721},{"t":70,"E":25.15,"v":-0.72},{"t":70,"E":25.35,"v":-0.719},{"t":70,"E":25.55,"v":-0.718},{"t":70,"E":25.75,"v":-0.718},{"t":70,"E":25.95,"v":-0.717},{"t":70,"E":26.15,"v":-0.717},{"t":70,"E":26.35,"v":-0.717},{"t":70,"E":26.55,"v":-0.716},{"t":70,"E":26.75,"v":-0.716},{"t":70,"E":26.95,"v":-0.716},{"t":70,"E":27.15,"v":-0.716},{"t":70,"E":27.35,"v":-0.715},{"t":70,"E":27.55,"v":-0.715},{"t":70,"E":27.75,"v":-0.715},{"t":70,"E":27.95,"v":-0.714},{"t":70,"E":28.15,"v":-0.714},{"t":70,"E":28.35,"v":-0.714},{"t":70,"E":28.55,"v":-0.714},{"t":70,"E":28.75,"v":-0.714},{"t":70,"E":28.95,"v":-0.713},{"t":70,"E":29.15,"v":-0.713},{"t":70,"E":29.35,"v":-0.713},{"t":70,"E":29.55,"v":-0.713},{"t":70,"E":29.75,"v":-0.713},{"t":70,"E":29.95,"v":-0.713}
]},
"layer": [
{"data": {"name": "curves"},
 "mark": {"type": "line", "strokeWidth": 1, "clip": true},
 "encoding": {
  "x": {"field": "E", "type": "quantitative", "scale": {"domain": [5, 30], "nice": false, "zero": false},
   "axis": {"orient": "bottom", "values": [5, 10, 15, 20, 25, 30], "tickSize": -8, "tickWidth": 1.5, "tickColor": "black", "domainColor": "black", "domainWidth": 1.5, "grid": false, "labelFont": "Liberation Sans", "labelFontSize": 16, "labelColor": "black", "labelPadding": 20, "labelFlush": false, "labelOverlap": false, "title": "Electron Energy (eV)", "titleFont": "Liberation Serif", "titleFontSize": 19.5, "titleFontWeight": "bold", "titleColor": "black", "titlePadding": 8}},
  "y": {"field": "v", "type": "quantitative", "scale": {"domain": [-1.7, 0], "nice": false, "zero": false},
   "axis": {"orient": "left", "values": [0, -1], "tickSize": -9, "tickWidth": 1.5, "tickColor": "black", "domainColor": "black", "domainWidth": 1.5, "grid": false, "labelFont": "Liberation Sans", "labelFontSize": 16, "labelColor": "black", "labelPadding": 20, "labelFlush": false, "labelOverlap": false, "title": "dN(E)/dE (arb. units)", "titleFont": "Liberation Serif", "titleFontSize": 22, "titleFontWeight": "bold", "titleColor": "black", "titlePadding": 38, "titleY": 318}},
  "stroke": {"field": "t", "type": "ordinal",
   "scale": {"domain": [0, 10, 20, 30, 40, 50, 60, 70], "range": ["#000000", "#ff0000", "#00ff00", "#0000ff", "#00ffff", "#ff00ff", "#000080", "#808000"]},
   "legend": {"orient": "none", "legendX": 358, "legendY": 324, "padding": 0, "title": "Deposition time (sec)", "titleFont": "Liberation Serif", "titleFontSize": 17, "titleFontWeight": "bold", "titleColor": "black", "titlePadding": 30, "symbolType": "stroke", "symbolSize": 2401, "symbolStrokeWidth": 1, "symbolOffset": 45.5, "labelOffset": 5, "labelFont": "Liberation Sans", "labelFontSize": 18, "labelFontWeight": "bold", "labelColor": "black", "clipHeight": 27, "rowPadding": 0.3, "zindex": 1}}
 }},
{"data": {"name": "curves"},
 "mark": {"type": "point", "filled": true, "size": 30, "opacity": 1, "strokeWidth": 0, "clip": true},
 "encoding": {
  "x": {"field": "E", "type": "quantitative",
   "axis": {"orient": "bottom", "values": [6, 7, 8, 9, 11, 12, 13, 14, 16, 17, 18, 19, 21, 22, 23, 24, 26, 27, 28, 29], "tickSize": -5, "tickWidth": 1.5, "tickColor": "black", "domain": false, "labels": false, "grid": false, "title": null}},
  "y": {"field": "v", "type": "quantitative",
   "axis": {"orient": "left", "values": [-0.5, -1.5], "tickSize": -5, "tickWidth": 1.5, "tickColor": "black", "domain": false, "labels": false, "grid": false, "title": null}},
  "color": {"field": "t", "type": "ordinal",
   "scale": {"range": ["#000000", "#ff0000", "#00ff00", "#0000ff", "#00ffff", "#ff00ff", "#000080", "#808000"]},
   "legend": {"orient": "none", "legendX": 358, "legendY": 371, "padding": 0, "title": null, "symbolSize": 30, "symbolStrokeWidth": 0, "symbolOffset": 61.5, "labelFontSize": 18, "labelExpr": "''", "clipHeight": 27, "rowPadding": 0.3, "zindex": 2}},
  "shape": {"field": "t", "type": "ordinal",
   "scale": {"range": ["square", "circle", "triangle-up", "triangle-down", "diamond", "M-1,-0.18H1V0.18H-1Z M-0.18,-1H0.18V1H-0.18Z", "M-0.85,-0.6L-0.6,-0.85L0.85,0.6L0.6,0.85Z M0.6,-0.85L0.85,-0.6L-0.6,0.85L-0.85,0.6Z", "M-1,-0.18H1V0.18H-1Z M-0.18,-1H0.18V1H-0.18Z M-0.85,-0.6L-0.6,-0.85L0.85,0.6L0.6,0.85Z M0.6,-0.85L0.85,-0.6L-0.6,0.85L-0.85,0.6Z"]},
   "legend": {"orient": "none", "legendX": 358, "legendY": 371, "padding": 0, "title": null, "symbolSize": 30, "symbolStrokeWidth": 0, "symbolOffset": 61.5, "labelFontSize": 18, "labelExpr": "''", "clipHeight": 27, "rowPadding": 0.3, "zindex": 2}}
 }},
{"data": {"name": "arrow"},
 "mark": {"type": "rule", "color": "black", "strokeWidth": 1},
 "encoding": {
  "x": {"field": "E", "type": "quantitative",
   "axis": {"orient": "top", "values": [5, 10, 15, 20, 25, 30], "tickSize": -8, "tickWidth": 1.5, "tickColor": "black", "domainColor": "black", "domainWidth": 1.5, "labels": false, "grid": false, "title": null}},
  "y": {"field": "v", "type": "quantitative",
   "axis": {"orient": "right", "values": [0, -1], "tickSize": -9, "tickWidth": 1.5, "tickColor": "black", "domainColor": "black", "domainWidth": 1.5, "labels": false, "grid": false, "title": null}},
  "y2": {"field": "v2"}
 }},
{"data": {"name": "arrowhead"},
 "mark": {"type": "point", "filled": true, "color": "black", "size": 144, "shape": "M-0.4,-1L0.4,-1L0,1Z", "opacity": 1, "strokeWidth": 0},
 "encoding": {
  "x": {"field": "E", "type": "quantitative",
   "axis": {"orient": "top", "values": [6, 7, 8, 9, 11, 12, 13, 14, 16, 17, 18, 19, 21, 22, 23, 24, 26, 27, 28, 29], "tickSize": -5, "tickWidth": 1.5, "tickColor": "black", "domain": false, "labels": false, "grid": false, "title": null}},
  "y": {"field": "v", "type": "quantitative",
   "axis": {"orient": "right", "values": [-0.5, -1.5], "tickSize": -5, "tickWidth": 1.5, "tickColor": "black", "domain": false, "labels": false, "grid": false, "title": null}}
 }}
],
"resolve": {"axis": {"x": "independent", "y": "independent"}}
}
